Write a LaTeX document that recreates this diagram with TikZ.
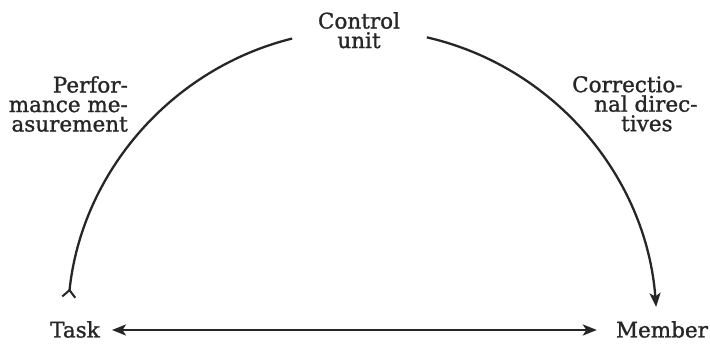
\documentclass[tikz,border=0pt]{standalone}
\usepackage{fontspec}
\setmainfont{DejaVu Serif}[FakeBold=1.2]
\usetikzlibrary{arrows.meta}
\definecolor{ink}{HTML}{262626}
\begin{document}
\begin{tikzpicture}[x=1pt,y=1pt,
  lbl/.style={inner sep=0pt, text=ink, font=\fontsize{21.5}{19.5}\selectfont},
  conn/.style={line width=2.3pt, draw=ink},
  >={Stealth[length=14pt,width=11pt,inset=3.5pt]}]
\useasboundingbox (0,0) rectangle (710,344);
% nodes
\node[lbl, align=center, anchor=north] (ctrl) at (359,332) {Control\\unit};
\node[lbl, anchor=base] (task) at (75,6.5) {Task};
\node[lbl, anchor=base] (member) at (662,6.5) {Member};
\node[lbl, align=right, anchor=north east] (perf) at (128,268) {Perfor-\\mance me-\\asurement};
\node[lbl, align=left, anchor=north west] (corr) at (572,268) {Correctio-\\\hspace*{22pt}nal direc-\\\hspace*{49pt}tives};
% arc end points
\coordinate (ec) at (362,14);
\path (ec) ++(103.7:295 and 300) coordinate (L1);
\path (ec) ++(173.9:295 and 300) coordinate (L2);
\path (ec) ++(77.3:295 and 300) coordinate (R1);
% connectors
\draw[conn, -{Straight Barb[reversed,length=7pt,width=13pt,line width=2pt]}] (L1) arc[start angle=103.7, end angle=173.9, x radius=295, y radius=300];
\draw[conn, ->] (R1) arc[start angle=77.3, end angle=4.4, x radius=295, y radius=300];
\draw[conn, <->]
  ([xshift=12pt]task.east |- 0,14) -- ([xshift=-19pt]member.west |- 0,14);
\end{tikzpicture}
\end{document}
